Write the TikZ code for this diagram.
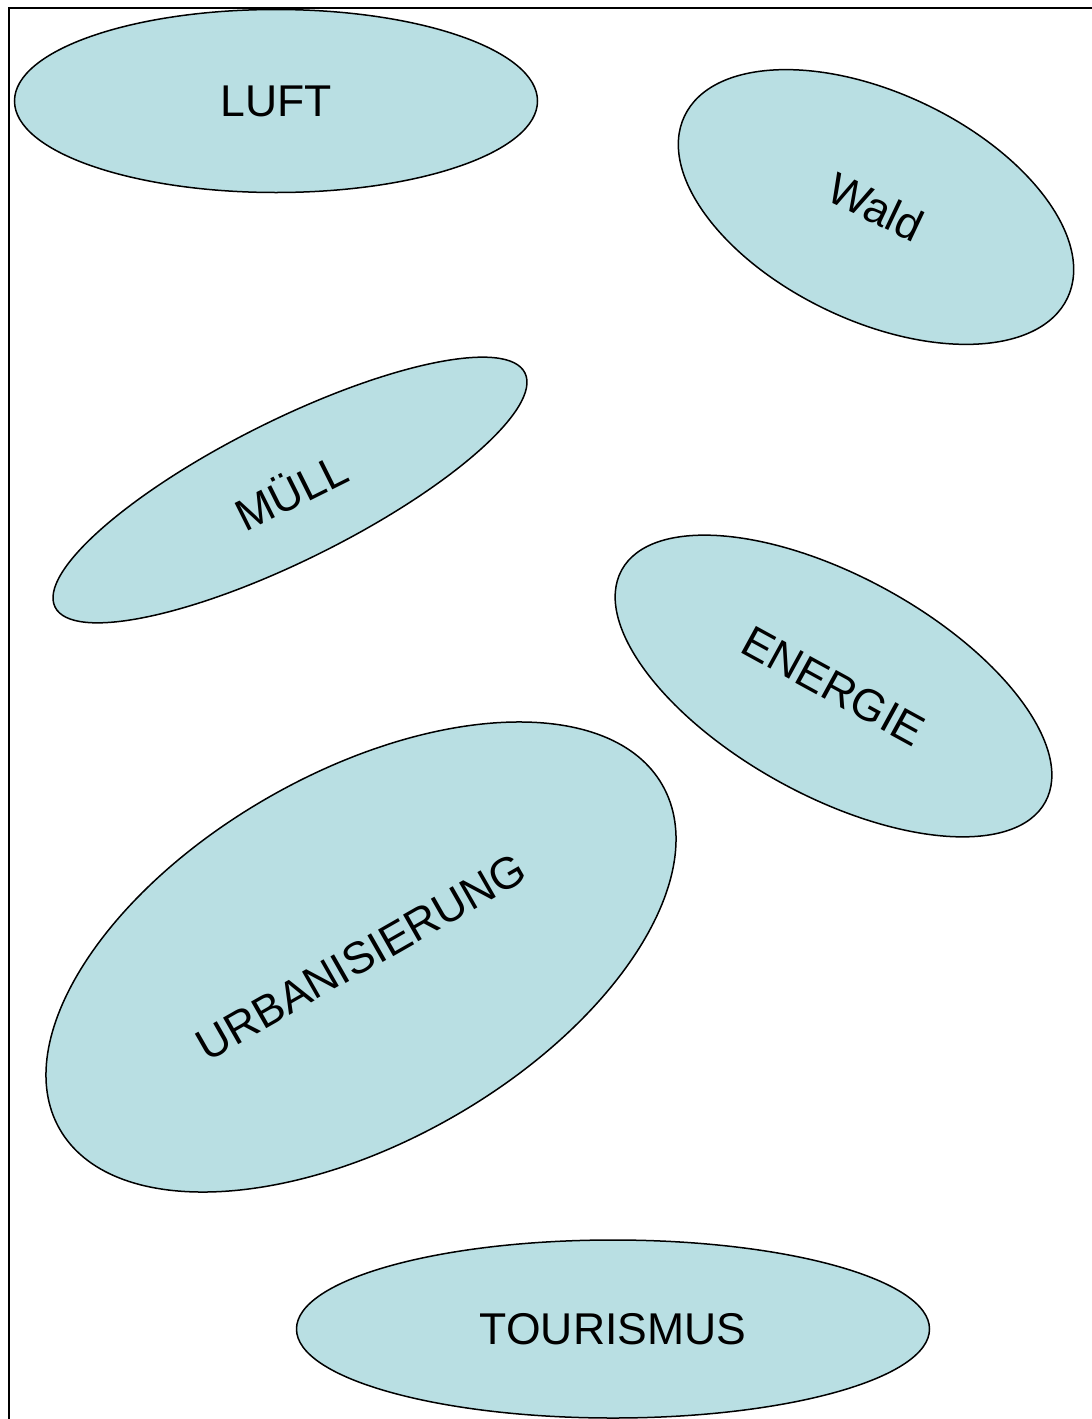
\documentclass[tikz,border=0pt]{standalone}
\usepackage{fontspec}
\setmainfont{Liberation Sans}
\usetikzlibrary{shapes.geometric}
\definecolor{bubble}{RGB}{185,223,227}
\tikzset{
  bub/.style={ellipse, draw=black, line width=1.5pt, fill=bubble, inner sep=0pt,
    font=\fontsize{44.5}{50}\selectfont, text=black},
  frame/.style={line width=2.6pt, draw=black}
}
\begin{document}
\begin{tikzpicture}[x=1pt,y=-1pt]
\useasboundingbox (0,0) rectangle (1092,1419);
\fill[white] (0,0) rectangle (1092,1419);
\coordinate (fb) at (9,1425);
\coordinate (fc) at (9,8);
\coordinate (fr) at (1100,8);
\draw[frame] (fb) -- (fc) -- (fr);
\node[bub, minimum width=523pt, minimum height=183pt] (luft) at (276,101) {LUFT};
\node[bub, minimum width=424pt, minimum height=228pt, rotate=-25.4] (wald) at (876,207) {Wald};
\node[bub, minimum width=525pt, minimum height=140pt, rotate=26.5] (muell) at (290,490) {MÜLL};
\node[bub, minimum width=483pt, minimum height=220pt, rotate=-28.7] (energie) at (833.5,686) {ENERGIE};
\node[bub, minimum width=694pt, minimum height=369pt, rotate=29.7] (urban) at (361,957) {URBANISIERUNG};
\node[bub, minimum width=633pt, minimum height=178pt] (tour) at (613,1329) {TOURISMUS};
\end{tikzpicture}
\end{document}
